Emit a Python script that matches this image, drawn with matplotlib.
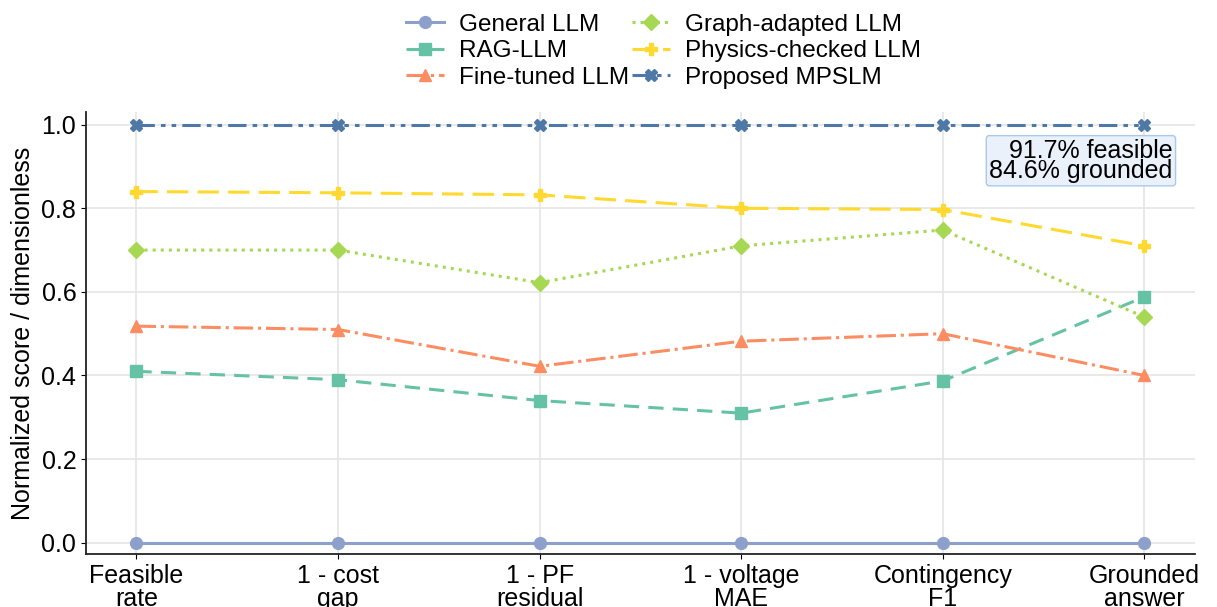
import matplotlib.pyplot as plt

plt.rcParams['font.family'] = ['Liberation Sans', 'DejaVu Sans']

metrics = ['Feasible\nrate', '1 - cost\ngap', '1 - PF\nresidual',
           '1 - voltage\nMAE', 'Contingency\nF1', 'Grounded\nanswer']

general_llm = [0.0, 0.0, 0.0, 0.0, 0.0, 0.0]
rag_llm = [0.41, 0.39, 0.34, 0.31, 0.387, 0.588]
fine_tuned_llm = [0.518, 0.51, 0.422, 0.482, 0.50, 0.40]
graph_llm = [0.70, 0.70, 0.622, 0.71, 0.748, 0.54]
physics_llm = [0.84, 0.837, 0.832, 0.80, 0.797, 0.71]
proposed = [1.0, 1.0, 1.0, 1.0, 1.0, 1.0]

series = [
    ('General LLM', general_llm, '#8da0cb', 'o', '-'),
    ('RAG-LLM', rag_llm, '#66c2a5', 's', (0, (5, 3))),
    ('Fine-tuned LLM', fine_tuned_llm, '#fc8d62', '^', '-.'),
    ('Graph-adapted LLM', graph_llm, '#a6d854', 'D', ':'),
    ('Physics-checked LLM', physics_llm, '#ffd92f', 'P', (0, (7, 3))),
    ('Proposed MPSLM', proposed, '#4e79a7', 'X', (0, (6, 2, 1.5, 2, 1.5, 2))),
]

fig = plt.figure(figsize=(12.17, 6.07), dpi=100)
ax = fig.add_axes([0.0707, 0.0873, 0.911, 0.728])

x = range(len(metrics))
for name, vals, color, marker, ls in series:
    ax.plot(x, vals, color=color, marker=marker, linestyle=ls, linewidth=2.2,
            markersize=8.5, label=name)

ax.set_xlim(-0.25, 5.25)
ax.set_ylim(-0.027, 1.03)
ax.set_xticks(list(x))
ax.set_xticklabels(metrics, fontsize=18, linespacing=0.95)
ax.set_yticks([0.0, 0.2, 0.4, 0.6, 0.8, 1.0])
ax.tick_params(axis='y', labelsize=18)
ax.set_ylabel('Normalized score / dimensionless', fontsize=18, labelpad=5)
ax.grid(True, color='#e5e5e5', linewidth=1.2)
ax.set_axisbelow(True)
for side in ['top', 'right']:
    ax.spines[side].set_visible(False)
for side in ['left', 'bottom']:
    ax.spines[side].set_linewidth(1.3)
    ax.spines[side].set_color('#222222')

ax.text(0.98, 0.94, '91.7% feasible\n84.6% grounded', transform=ax.transAxes,
        ha='right', va='top', multialignment='right', fontsize=18,
        linespacing=0.8,
        bbox=dict(boxstyle='round,pad=0.12', facecolor='#eaf1fa',
                  edgecolor='#a9c9e8', linewidth=1))

fig.legend(loc='upper center', bbox_to_anchor=(0.545, 1.013), ncol=2,
           frameon=False, fontsize=17.5, handlelength=1.6, columnspacing=0.1,
           labelspacing=0.18, handletextpad=0.6)

fig.savefig('out.png', dpi=100)
